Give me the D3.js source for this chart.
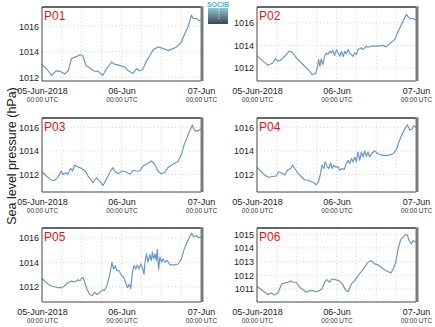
<!DOCTYPE html>
<html><head><meta charset="utf-8">
<script src="https://cdn.jsdelivr.net/npm/d3@7"></script>
<style>
html,body{margin:0;padding:0;background:#fff;}
svg{display:block;font-family:"Liberation Sans",Arial,sans-serif;}
</style></head>
<body><svg id="c" width="435" height="327"></svg>
<script>
// ---- data (hours since 05-Jun-2018 00:00 UTC, pressure hPa) ----
const panelNames = ["P01","P02","P03","P04","P05","P06"];
const xTickHours = [0, 24, 48];
const xTickLine1 = ["05-Jun-2018", "06-Jun", "07-Jun"];
const xTickLine2 = ["00:00 UTC", "00:00 UTC", "00:00 UTC"];
const yTicksA = [1012, 1014, 1016];
const yTicksB = [1011, 1012, 1013, 1014, 1015];
const yAxisTitle = "Sea level pressure (hPa)";

const p01 = [[0,1012.97],[1.4,1012.66],[2.9,1012.13],[4.2,1012.5],[5.4,1012.47],[6.9,1012.26],[7.9,1012.5],[8.9,1013.45],[10.5,1013.63],[11.5,1013.76],[12.3,1013.7],[13.3,1012.9],[14,1012.8],[15.5,1012.5],[17,1012.45],[18.3,1012.13],[19.5,1012.66],[21,1013.18],[22,1013.0],[23.5,1012.92],[25,1012.8],[26,1012.5],[27.4,1012.3],[28.6,1012.66],[29.4,1012.5],[30.4,1012.58],[31.6,1013.3],[32.6,1013.7],[33.6,1014.16],[35.1,1014.37],[36.6,1014.24],[38.1,1014.1],[39.6,1014.24],[40.6,1014.37],[42.1,1014.76],[43.1,1015.42],[44.1,1015.95],[45.1,1016.87],[45.6,1016.6],[46.6,1016.6],[47.6,1016.42],[48,1016.4]];

const p02 = [[0,1013.1],[1.3,1012.74],[3.3,1012.24],[4.8,1012.44],[5.6,1012.83],[6.3,1012.6],[7.3,1012.74],[8.4,1013.04],[9.6,1013.48],[10.6,1013.4],[11.9,1012.9],[13.4,1012.44],[14.9,1012.0],[15.9,1011.7],[16.7,1011.4],[17.7,1011.5],[18.2,1012.0],[18.6,1012.74],[19.0,1012.15],[19.4,1012.8],[19.9,1012.3],[20.4,1013.04],[20.9,1013.33],[21.4,1013.18],[21.9,1013.48],[22.4,1013.33],[22.9,1013.57],[23.4,1013.1],[24.0,1013.63],[24.5,1013.33],[25.0,1013.04],[25.5,1013.48],[26.0,1013.0],[26.5,1013.48],[27.0,1013.27],[27.5,1013.63],[28.0,1013.33],[28.5,1013.18],[29.0,1013.04],[29.5,1013.33],[30.0,1013.18],[30.5,1013.63],[31.0,1013.7],[31.5,1013.78],[32.0,1013.63],[33.0,1013.93],[33.5,1013.84],[34.5,1013.93],[36.5,1013.93],[38.0,1014.0],[39.0,1013.87],[40.1,1014.16],[41.6,1014.52],[42.4,1015.1],[43.1,1015.55],[44.1,1016.15],[45.1,1016.74],[46.1,1016.36],[47.1,1016.39],[48,1016.24]];

const p03 = [[0,1012.2],[1.3,1011.86],[2.8,1011.51],[3.8,1011.49],[4.8,1011.77],[5.8,1012.29],[6.3,1012.0],[7.3,1012.14],[7.8,1012.0],[8.6,1012.51],[9.2,1012.29],[9.9,1012.8],[10.9,1012.63],[11.9,1012.51],[12.9,1012.34],[13.9,1011.86],[15.4,1011.29],[16.4,1011.71],[17.4,1011.43],[18.4,1011.06],[19.4,1011.57],[20.4,1012.14],[21.4,1012.57],[21.9,1012.29],[22.9,1012.06],[24.3,1012.29],[25.5,1012.2],[26.5,1012.0],[27.5,1012.34],[28.5,1012.29],[29.5,1012.29],[30.5,1012.71],[31.5,1012.86],[33.0,1013.14],[34.0,1012.86],[35.0,1012.29],[36.0,1012.06],[37.0,1012.14],[38.0,1012.57],[39.5,1012.86],[41.1,1013.09],[42.1,1013.71],[42.8,1014.43],[43.6,1015.0],[44.6,1015.71],[45.4,1016.2],[46.1,1015.71],[47.1,1015.71],[48,1015.86]];

const p04 = [[0,1012.59],[1.3,1012.22],[2.3,1011.94],[3.3,1011.75],[4.3,1011.8],[5.8,1011.86],[6.5,1012.22],[7.3,1012.14],[8.4,1011.94],[9.2,1012.36],[10.2,1012.5],[10.7,1012.78],[11.4,1012.5],[12.4,1012.08],[13.4,1011.8],[14.4,1011.52],[15.4,1011.52],[16.4,1011.38],[17.4,1011.24],[17.9,1011.1],[18.6,1011.38],[19.2,1012.08],[19.6,1012.78],[20.2,1012.5],[20.6,1013.06],[21.2,1012.64],[21.7,1012.5],[22.2,1012.98],[22.7,1012.5],[23.2,1012.78],[23.7,1012.64],[24.5,1012.64],[25.0,1012.36],[25.7,1012.5],[26.3,1012.42],[26.8,1012.78],[27.5,1013.2],[28.0,1012.92],[28.5,1013.34],[29.0,1013.06],[29.5,1013.48],[30.0,1013.06],[30.5,1013.9],[31.0,1013.2],[31.5,1013.9],[32.0,1013.48],[32.5,1013.99],[33.0,1013.54],[33.5,1013.9],[34.0,1013.48],[34.5,1013.76],[35.5,1013.99],[36.5,1013.76],[38.0,1013.62],[39.5,1013.62],[41.1,1013.76],[42.1,1014.1],[42.8,1014.74],[43.6,1015.3],[44.6,1015.86],[45.4,1016.22],[46.1,1015.78],[46.8,1015.86],[47.3,1016.14],[48,1016.0]];

const p05 = [[0,1012.67],[1.3,1012.33],[2.8,1012.06],[3.8,1012.0],[4.8,1011.92],[5.8,1011.92],[6.8,1012.06],[7.8,1012.33],[8.9,1012.47],[9.9,1012.39],[10.9,1012.56],[11.4,1012.47],[11.9,1012.67],[12.4,1012.75],[12.9,1012.33],[13.6,1011.78],[14.4,1011.36],[15.2,1011.28],[15.9,1011.56],[16.6,1011.36],[17.4,1011.5],[18.2,1011.72],[18.9,1011.72],[19.6,1012.06],[20.2,1012.75],[20.7,1013.31],[21.1,1014.0],[21.6,1013.44],[22.1,1013.72],[22.6,1013.31],[23.2,1013.31],[24.0,1012.94],[24.7,1012.75],[25.3,1012.33],[25.8,1011.92],[26.3,1012.19],[26.8,1011.83],[27.3,1013.17],[27.8,1013.72],[28.3,1013.44],[28.8,1013.78],[29.3,1013.44],[29.8,1013.86],[30.3,1013.58],[30.8,1013.03],[31.1,1014.0],[31.5,1014.69],[32.0,1014.0],[32.5,1014.61],[33.0,1014.14],[33.3,1014.83],[33.7,1014.28],[34.1,1014.69],[34.5,1014.14],[34.8,1015.06],[35.2,1013.44],[35.6,1014.42],[36.1,1014.0],[36.5,1014.28],[37.1,1014.0],[37.8,1014.14],[38.7,1013.78],[40.1,1013.78],[41.1,1013.86],[42.1,1014.28],[42.8,1014.97],[43.6,1015.53],[44.6,1016.08],[45.2,1016.36],[45.8,1016.08],[46.6,1016.17],[47.3,1016.0],[48,1016.08]];

const p06 = [[0,1011.2],[1.3,1010.95],[2.3,1010.76],[3.3,1010.59],[4.3,1010.71],[5.3,1010.56],[6.3,1010.71],[6.8,1011.0],[7.5,1011.37],[8.4,1011.44],[9.4,1011.49],[10.2,1011.59],[10.9,1011.49],[11.9,1011.49],[12.9,1011.12],[13.9,1010.95],[14.9,1010.76],[15.9,1010.88],[16.9,1010.88],[17.9,1010.8],[18.9,1010.88],[19.6,1011.0],[20.4,1011.49],[21.1,1011.68],[21.9,1011.49],[22.6,1011.73],[23.6,1011.68],[24.7,1011.61],[25.7,1011.37],[26.7,1010.95],[27.5,1010.8],[28.5,1011.37],[29.5,1011.61],[30.5,1011.98],[31.5,1012.27],[32.5,1012.59],[33.5,1012.95],[34.5,1013.07],[35.5,1012.83],[36.5,1012.76],[37.5,1012.59],[38.5,1012.41],[39.5,1012.27],[40.4,1012.17],[41.1,1012.46],[41.9,1012.95],[42.6,1013.93],[43.3,1014.54],[44.1,1014.78],[44.8,1014.95],[45.4,1014.95],[45.9,1014.54],[46.6,1014.29],[47.1,1014.54],[48,1014.41]];

const seriesList = [p01, p02, p03, p04, p05, p06];
const yDomains = [[1011.7,1017.5],[1010.85,1017.4],[1010.5,1016.8],[1010.5,1016.8],[1010.75,1016.8],[1010.05,1015.45]];
const yTickSets = [yTicksA, yTicksA, yTicksA, yTicksA, yTicksA, yTicksB];

// ---- layout ----
const colX = [42, 257];
const rowY = [7, 118, 228];
const pw = 159, ph = 74;

const svg = d3.select("#c");
const lineColor = "#6b98c2";

panelNames.forEach((name, i) => {
  const col = i % 2, row = Math.floor(i / 2);
  const g = svg.append("g").attr("transform", `translate(${colX[col]},${rowY[row]})`);
  const x = d3.scaleLinear().domain([0, 48]).range([0, pw]);
  const y = d3.scaleLinear().domain(yDomains[i]).range([ph, 0]);

  // grid
  g.append("g").selectAll("line").data(d3.range(6, 48, 6)).join("line")
    .attr("x1", d => x(d)).attr("x2", d => x(d)).attr("y1", 0).attr("y2", ph)
    .attr("stroke", "#c8c8c8").attr("stroke-width", 0.8).attr("stroke-dasharray", "1,2.5");
  g.append("g").selectAll("line").data(yTickSets[i]).join("line")
    .attr("x1", 0).attr("x2", pw).attr("y1", d => y(d)).attr("y2", d => y(d))
    .attr("stroke", "#c8c8c8").attr("stroke-width", 0.8).attr("stroke-dasharray", "1,2.5");

  // line
  g.append("path").datum(seriesList[i])
    .attr("fill", "none").attr("stroke", lineColor).attr("stroke-width", 1.2)
    .attr("stroke-linejoin", "round")
    .attr("d", d3.line().x(d => x(d[0])).y(d => y(d[1])));

  // frame
  g.append("line").attr("x1", 0).attr("x2", 0).attr("y1", 0).attr("y2", ph).attr("stroke", "#444").attr("stroke-width", 1);
  g.append("line").attr("x1", 0).attr("x2", pw).attr("y1", ph).attr("y2", ph).attr("stroke", "#444").attr("stroke-width", 1);
  g.append("line").attr("x1", 0).attr("x2", pw).attr("y1", 0).attr("y2", 0).attr("stroke", "#333").attr("stroke-width", 1.5);
  g.append("line").attr("x1", pw + 1).attr("x2", pw + 1).attr("y1", -0.7).attr("y2", ph).attr("stroke", "#7a7a7a").attr("stroke-width", 3);

  // y axis
  const ya = d3.axisLeft(y).tickValues(yTickSets[i]).tickSize(0).tickPadding(3).tickFormat(d3.format("d"));
  const yg = g.append("g").call(ya);
  yg.select(".domain").remove();
  yg.selectAll("text").attr("font-size", 9).attr("fill", "#222").attr("font-family", "Liberation Sans, Arial, sans-serif");

  // x axis
  const xa = d3.axisBottom(x).tickValues(xTickHours).tickSize(0).tickPadding(7)
    .tickFormat((d, k) => xTickLine1[k]);
  const xg = g.append("g").attr("transform", `translate(0,${ph})`).call(xa);
  xg.select(".domain").remove();
  xg.selectAll("text").attr("font-size", 9).attr("fill", "#222").attr("font-family", "Liberation Sans, Arial, sans-serif");
  xg.selectAll(".tick").append("text")
    .attr("y", 21).attr("text-anchor", "middle").attr("fill", "#333")
    .attr("font-size", 6.5).attr("font-family", "Liberation Sans, Arial, sans-serif")
    .text((d, k) => xTickLine2[k]);

  // panel label
  g.append("text").attr("x", 2).attr("y", 13).attr("fill", "#ee1111")
    .attr("font-size", 12).text(name);
});

// y axis title
svg.append("text")
  .attr("transform", "translate(16,156) rotate(-90)")
  .attr("text-anchor", "middle").attr("font-size", 12.5).attr("fill", "#222")
  .text(yAxisTitle);

// logo
const defs = svg.append("defs");
const lg = defs.append("linearGradient").attr("id", "lg").attr("x1", 0).attr("y1", 0).attr("x2", 0).attr("y2", 1);
lg.append("stop").attr("offset", "0%").attr("stop-color", "#8fc7d6");
lg.append("stop").attr("offset", "100%").attr("stop-color", "#3a4650");
svg.append("rect").attr("x", 208).attr("y", 8).attr("width", 20).attr("height", 16).attr("fill", "url(#lg)");
svg.append("line").attr("x1", 219).attr("x2", 219).attr("y1", 8).attr("y2", 20)
  .attr("stroke", "#fff").attr("stroke-width", 0.8).attr("stroke-dasharray", "1,1.5");
svg.append("text").attr("x", 218).attr("y", 7).attr("text-anchor", "middle")
  .attr("font-size", 7).attr("fill", "#4ab3cf").attr("font-weight", "bold").text("SOCIB");
</script></body></html>
